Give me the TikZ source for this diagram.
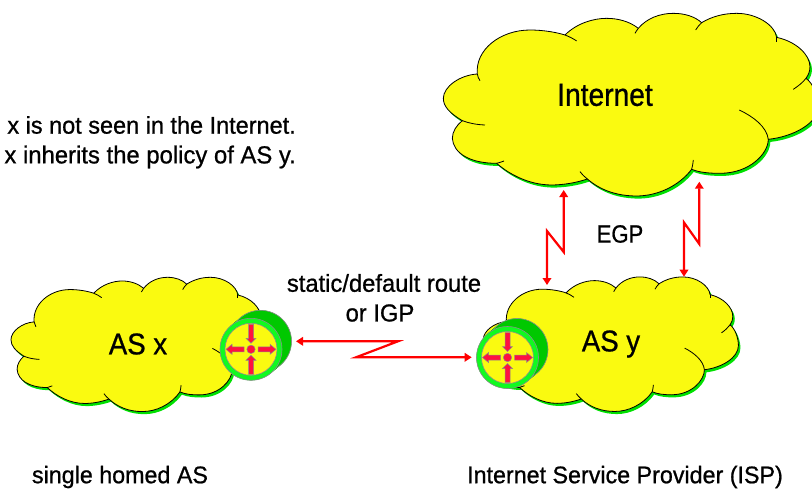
\documentclass[tikz,border=0pt]{standalone}
\usepackage{fontspec}
\setmainfont[FakeStretch=0.97,FakeBold=0.8]{Liberation Sans}
\newfontfamily\titlefont[FakeStretch=0.88,FakeBold=0.8]{Liberation Sans}
\newfontfamily\asfont[FakeStretch=0.92,FakeBold=0.8]{Liberation Sans}
\usetikzlibrary{arrows.meta}
\definecolor{cloudyellow}{HTML}{FAFA10}
\definecolor{shadowgreen}{HTML}{00E000}
\definecolor{darkgreen}{HTML}{00C800}
\definecolor{ringgreen}{HTML}{10FA20}
\definecolor{routerred}{HTML}{FF1040}
\definecolor{routergray}{HTML}{8C8C8C}
\definecolor{linkred}{HTML}{FF0000}
\newcommand{\cloudoutline}{(97,362) .. controls (60,340) and (40,320) .. (40,295) .. controls (40,260) and (90,225) .. (142,222)
 .. controls (135,150) and (210,90) .. (300,90) .. controls (340,90) and (380,97) .. (405,105)
 .. controls (440,70) and (490,55) .. (530,55) .. controls (565,55) and (600,65) .. (625,85)
 .. controls (650,55) and (690,40) .. (730,40) .. controls (765,40) and (795,50) .. (815,68)
 .. controls (845,50) and (880,40) .. (920,40) .. controls (980,40) and (1035,75) .. (1040,112)
 .. controls (1100,125) and (1140,165) .. (1140,200) .. controls (1140,215) and (1135,225) .. (1128,235)
 .. controls (1150,250) and (1165,290) .. (1165,319) .. controls (1165,370) and (1090,410) .. (1015,418)
 .. controls (1015,460) and (960,520) .. (870,520) .. controls (840,520) and (810,518) .. (785,508)
 .. controls (745,560) and (680,588) .. (620,588) .. controls (560,588) and (510,570) .. (472,537)
 .. controls (440,548) and (400,555) .. (365,555) .. controls (300,555) and (240,525) .. (200,490)
 .. controls (120,490) and (70,460) .. (67,415) .. controls (67,395) and (80,375) .. (97,362) -- cycle}
\newcommand{\cloudshape}[5]{%
 \fill[shadowgreen,shift={(#1pt+#5pt,-#2pt-#5pt*1.3)},x=#3pt,y=-#4pt] \cloudoutline;
 \begin{scope}[shift={(#1pt,-#2pt)},x=#3pt,y=-#4pt,line width=0.8pt]
 \filldraw[fill=cloudyellow,draw=black] \cloudoutline;
 \draw (142,222) .. controls (143,230) and (146,236) .. (150,242);
 \draw (405,105) .. controls (418,110) and (430,116) .. (440,123);
 \draw (625,85) .. controls (621,90) and (618,95) .. (615,100);
 \draw (815,68) .. controls (808,74) and (802,82) .. (797,90);
 \draw (1040,112) -- (1040,125);
 \draw (1128,235) .. controls (1118,248) and (1105,258) .. (1090,268);
 \draw (1015,418) .. controls (1010,380) and (970,350) .. (928,330);
 \draw (785,508) .. controls (788,498) and (789,490) .. (790,480);
 \draw (472,537) .. controls (463,530) and (456,523) .. (450,515);
 \draw (200,490) .. controls (208,488) and (215,486) .. (222,483);
 \draw (97,362) .. controls (118,370) and (140,374) .. (165,375);
 \end{scope}}
\tikzset{
 routerline/.style={line width=0.6pt,draw=routergray},
 routerarrow/.style={fill=routerred,draw=routergray,line width=0.5pt},
 link/.style={draw=linkred,line width=2.2pt,miter limit=20,{Triangle[length=7pt,width=8.5pt]}-{Triangle[length=7pt,width=8.5pt]}},
 textlabel/.style={inner sep=0pt,text=black}
}
\newcommand{\routericon}[2]{%
 \begin{scope}[shift={(#1pt,-#2pt)},x=1pt,y=-1pt]
 \foreach \fr in {0,0.1,...,1.01} {\fill[darkgreen] (9.5*\fr,-8*\fr) circle[radius=31];}
 \draw[routerline,fill=darkgreen] (9.5,-8) circle[radius=31];
 \draw[routerline,fill=ringgreen] (0,0) circle[radius=31];
 \draw[routerline,fill=cloudyellow] (0,0) circle[radius=26];
 \filldraw[routerarrow] (0,-6) -- (-5,-11) -- (-2.5,-11) -- (-2.5,-25) -- (2.5,-25) -- (2.5,-11) -- (5,-11) -- cycle;
 \filldraw[routerarrow] (0,6) -- (-5,11) -- (-2.5,11) -- (-2.5,25) -- (2.5,25) -- (2.5,11) -- (5,11) -- cycle;
 \filldraw[routerarrow] (-25,0) -- (-19,-5) -- (-19,-2.5) -- (-7,-2.5) -- (-7,2.5) -- (-19,2.5) -- (-19,5) -- cycle;
 \filldraw[routerarrow] (25,0) -- (19,-5) -- (19,-2.5) -- (7,-2.5) -- (7,2.5) -- (19,2.5) -- (19,5) -- cycle;
 \filldraw[routerarrow] (0,0) circle[radius=4.2];
 \end{scope}}
\begin{document}
\begin{tikzpicture}[x=1pt,y=-1pt]
\path[use as bounding box] (0,0) rectangle (812,488);
\clip (0,0) rectangle (812,488);
\fill[white] (0,0) rectangle (812,488);
% clouds
\cloudshape{430}{0}{0.3333}{0.3333}{2}
\cloudshape{1.9}{267.5}{0.2268}{0.245}{2}
\cloudshape{474.2}{267.1}{0.2268}{0.2455}{2}
% routers
\routericon{251}{349.3}
\routericon{507.5}{357.5}
% labels
\node[textlabel,font=\titlefont\fontsize{32}{32}\selectfont] (internet) at (605,95) {Internet};
\node[textlabel,font=\asfont\fontsize{30}{30}\selectfont] (asx) at (138,344) {AS x};
\node[textlabel,font=\asfont\fontsize{30}{30}\selectfont] (asy) at (611,344) {AS y};
\node[textlabel,font=\titlefont\fontsize{25}{25}\selectfont] (egp) at (620,234) {EGP};
\node[textlabel,font=\fontsize{24.5}{25}\selectfont] (static) at (384,283) {static/default route};
\node[textlabel,font=\fontsize{24.5}{25}\selectfont] (origp) at (380,313) {or IGP};
\node[textlabel,font=\fontsize{24.2}{24}\selectfont,anchor=east] (note1) at (296,125) {AS x is not seen in the Internet.};
\node[textlabel,font=\fontsize{24.6}{24}\selectfont,anchor=east] (note2) at (296,157) {AS x inherits the policy of AS y.};
\node[textlabel,font=\fontsize{24}{24}\selectfont] (single) at (120,477) {single homed AS};
\node[textlabel,font=\fontsize{24}{24}\selectfont] (isp) at (625,477) {Internet Service Provider (ISP)};
% connectors
\coordinate (staticL) at (296,341.3);
\coordinate (staticA) at (398,341.3);
\coordinate (staticB) at (356,357.3);
\coordinate (staticR) at (471.7,357.3);
\coordinate (egpaT) at (563.7,190);
\coordinate (egpaA) at (563.7,252);
\coordinate (egpaB) at (547,231);
\coordinate (egpaE) at (547,285);
\coordinate (egpbT) at (699.3,181.7);
\coordinate (egpbA) at (699.3,244);
\coordinate (egpbB) at (684,222.5);
\coordinate (egpbE) at (684,276.7);
\draw[link] (staticL) -- (staticA) -- (staticB) -- (staticR);
\draw[link] (egpaT) -- (egpaA) -- (egpaB) -- (egpaE);
\draw[link] (egpbT) -- (egpbA) -- (egpbB) -- (egpbE);
\end{tikzpicture}
\end{document}
